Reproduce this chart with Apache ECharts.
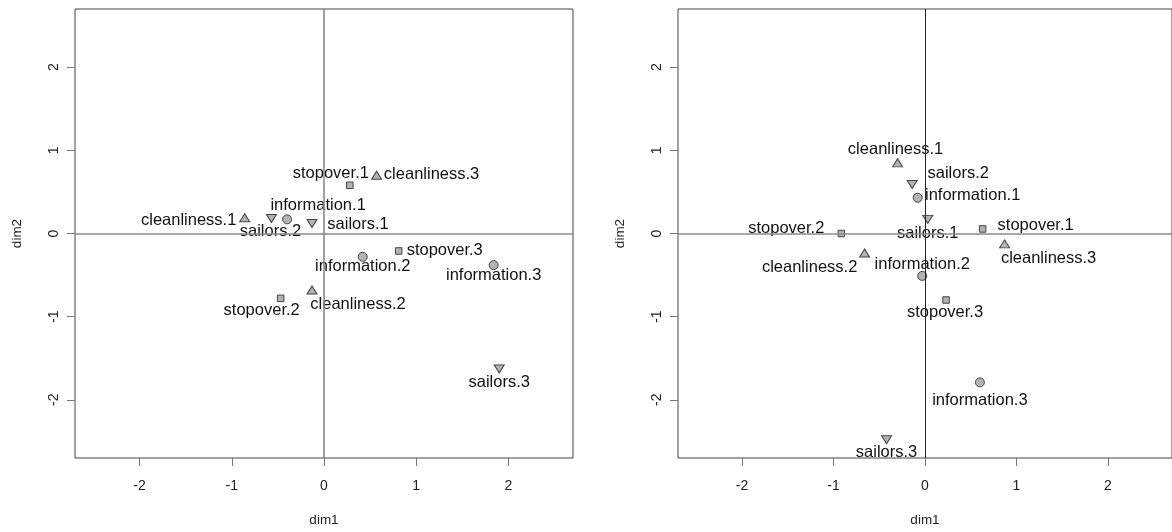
<!DOCTYPE html>
<html>
<head>
<meta charset="utf-8">
<title>dim1 / dim2</title>
<script src="https://cdn.jsdelivr.net/npm/echarts@6/dist/echarts.min.js"></script>
<style>
  html, body { margin: 0; padding: 0; background: #ffffff; }
  #chart { width: 1172px; height: 532px; }
</style>
</head>
<body>
<div id="chart"></div>
<script>
// Category coordinates, left map
const leftLabels = ['stopover.1', 'cleanliness.3', 'information.1', 'cleanliness.1', 'sailors.2', 'sailors.1',
                    'stopover.3', 'information.2', 'information.3', 'cleanliness.2', 'stopover.2', 'sailors.3'];
const leftDim1 = [0.28, 0.57, -0.40, -0.86, -0.57, -0.13, 0.81, 0.42, 1.84, -0.13, -0.47, 1.90];
const leftDim2 = [0.58, 0.70, 0.17, 0.19, 0.18, 0.12, -0.21, -0.28, -0.38, -0.68, -0.78, -1.63];

// Category coordinates, right map
const rightLabels = ['cleanliness.1', 'sailors.2', 'information.1', 'sailors.1', 'stopover.1', 'cleanliness.3',
                     'stopover.2', 'cleanliness.2', 'information.2', 'stopover.3', 'information.3', 'sailors.3'];
const rightDim1 = [-0.30, -0.14, -0.08, 0.03, 0.63, 0.87, -0.915, -0.66, -0.03, 0.23, 0.60, -0.42];
const rightDim2 = [0.85, 0.59, 0.43, 0.17, 0.055, -0.125, 0.0, -0.235, -0.51, -0.80, -1.79, -2.48];

// Axis tick labels
const tickValues = [-2, -1, 0, 1, 2];
const axisNames = { x: 'dim1', y: 'dim2' };

// Label placement (pixel offsets of each label's centre from its marker)
const leftLabelOffset = {
  'stopover.1': [-19, -12], 'cleanliness.3': [55, -1], 'information.1': [31, -14],
  'cleanliness.1': [-56, 3], 'sailors.2': [-1, 13], 'sailors.1': [46, 1],
  'stopover.3': [46, -1], 'information.2': [0, 10], 'information.3': [0, 10],
  'cleanliness.2': [46, 14], 'stopover.2': [-19, 12], 'sailors.3': [0, 13]
};
const rightLabelOffset = {
  'cleanliness.1': [-2, -13], 'sailors.2': [46, -11], 'information.1': [55, -2],
  'sailors.1': [0, 14], 'stopover.1': [53, -3], 'cleanliness.3': [44, 15],
  'stopover.2': [-55, -5], 'cleanliness.2': [-55, 14], 'information.2': [0, -11],
  'stopover.3': [-1, 12], 'information.3': [0, 18], 'sailors.3': [0, 13]
};

// Marker shape per variable
const markerStyle = {
  cleanliness: { symbol: 'triangle', symbolSize: [10, 8], symbolRotate: 0 },
  sailors:     { symbol: 'triangle', symbolSize: [10, 8], symbolRotate: 180 },
  information: { symbol: 'circle',   symbolSize: 9,       symbolRotate: 0 },
  stopover:    { symbol: 'rect',     symbolSize: 6.5,     symbolRotate: 0 }
};

const FONT = '"Liberation Sans", Arial, sans-serif';
const AX_MIN = -2.7, AX_MAX = 2.7;

function buildPoints(labels, xs, ys) {
  return labels.map(function (name, i) {
    const st = markerStyle[name.split('.')[0]];
    return {
      name: name,
      value: [xs[i], ys[i]],
      symbol: st.symbol,
      symbolSize: st.symbolSize,
      symbolRotate: st.symbolRotate
    };
  });
}

function xAxisFor(gridIndex) {
  return {
    gridIndex: gridIndex, type: 'value', min: AX_MIN, max: AX_MAX,
    name: axisNames.x, nameLocation: 'middle', nameGap: 55,
    nameTextStyle: { fontFamily: FONT, fontSize: 13.5, color: '#222' },
    axisLine: { show: false, onZero: false },
    splitLine: { show: false },
    axisTick: { show: true, length: 8, customValues: tickValues, lineStyle: { color: '#777', width: 1 } },
    axisLabel: { customValues: tickValues, margin: 21, fontFamily: FONT, fontSize: 14, color: '#222' }
  };
}
function yAxisFor(gridIndex) {
  return {
    gridIndex: gridIndex, type: 'value', min: AX_MIN, max: AX_MAX,
    name: axisNames.y, nameLocation: 'middle', nameGap: 51, nameRotate: 90,
    nameTextStyle: { fontFamily: FONT, fontSize: 13.5, color: '#222' },
    axisLine: { show: false, onZero: false },
    splitLine: { show: false },
    axisTick: { show: true, length: 8, customValues: tickValues, lineStyle: { color: '#777', width: 1 } },
    axisLabel: { customValues: tickValues, rotate: 90, margin: 14, fontFamily: FONT, fontSize: 14, color: '#222' }
  };
}

function referenceLines(idx, vColor, vWidth, hColor, hWidth) {
  return {
    type: 'scatter', xAxisIndex: idx, yAxisIndex: idx, data: [], z: 1, silent: true,
    markLine: {
      silent: true, symbol: 'none', label: { show: false }, animation: false,
      data: [
        { xAxis: 0, lineStyle: { color: vColor, width: vWidth, type: 'solid' } },
        { yAxis: 0, lineStyle: { color: hColor, width: hWidth, type: 'solid' } }
      ]
    }
  };
}

function pointSeries(idx, labels, xs, ys, offsets) {
  return {
    type: 'scatter', xAxisIndex: idx, yAxisIndex: idx, z: 3, animation: false,
    data: buildPoints(labels, xs, ys),
    itemStyle: { color: '#b3b3b3', borderColor: '#444', borderWidth: 1, opacity: 1 },
    label: {
      show: true, position: 'inside', formatter: '{b}',
      fontFamily: FONT, fontSize: 16.5, color: '#111', align: 'center', verticalAlign: 'middle'
    },
    labelLayout: function (params) {
      const off = offsets[labels[params.dataIndex]] || [0, 0];
      return { dx: off[0], dy: off[1], hideOverlap: false };
    },
    emphasis: { disabled: true }
  };
}

const chart = echarts.init(document.getElementById('chart'), null, { renderer: 'canvas' });
chart.setOption({
  backgroundColor: '#ffffff',
  animation: false,
  grid: [
    { left: 75, top: 9, width: 498, height: 450, show: true, borderColor: '#444', borderWidth: 1, backgroundColor: 'transparent' },
    { left: 678, top: 9, width: 498, height: 450, show: true, borderColor: '#444', borderWidth: 1, backgroundColor: 'transparent' }
  ],
  xAxis: [xAxisFor(0), xAxisFor(1)],
  yAxis: [yAxisFor(0), yAxisFor(1)],
  series: [
    referenceLines(0, '#8a8a8a', 1.6, '#8a8a8a', 1.6),
    referenceLines(1, '#222', 1, '#8a8a8a', 1.6),
    pointSeries(0, leftLabels, leftDim1, leftDim2, leftLabelOffset),
    pointSeries(1, rightLabels, rightDim1, rightDim2, rightLabelOffset)
  ]
});
</script>
</body>
</html>
